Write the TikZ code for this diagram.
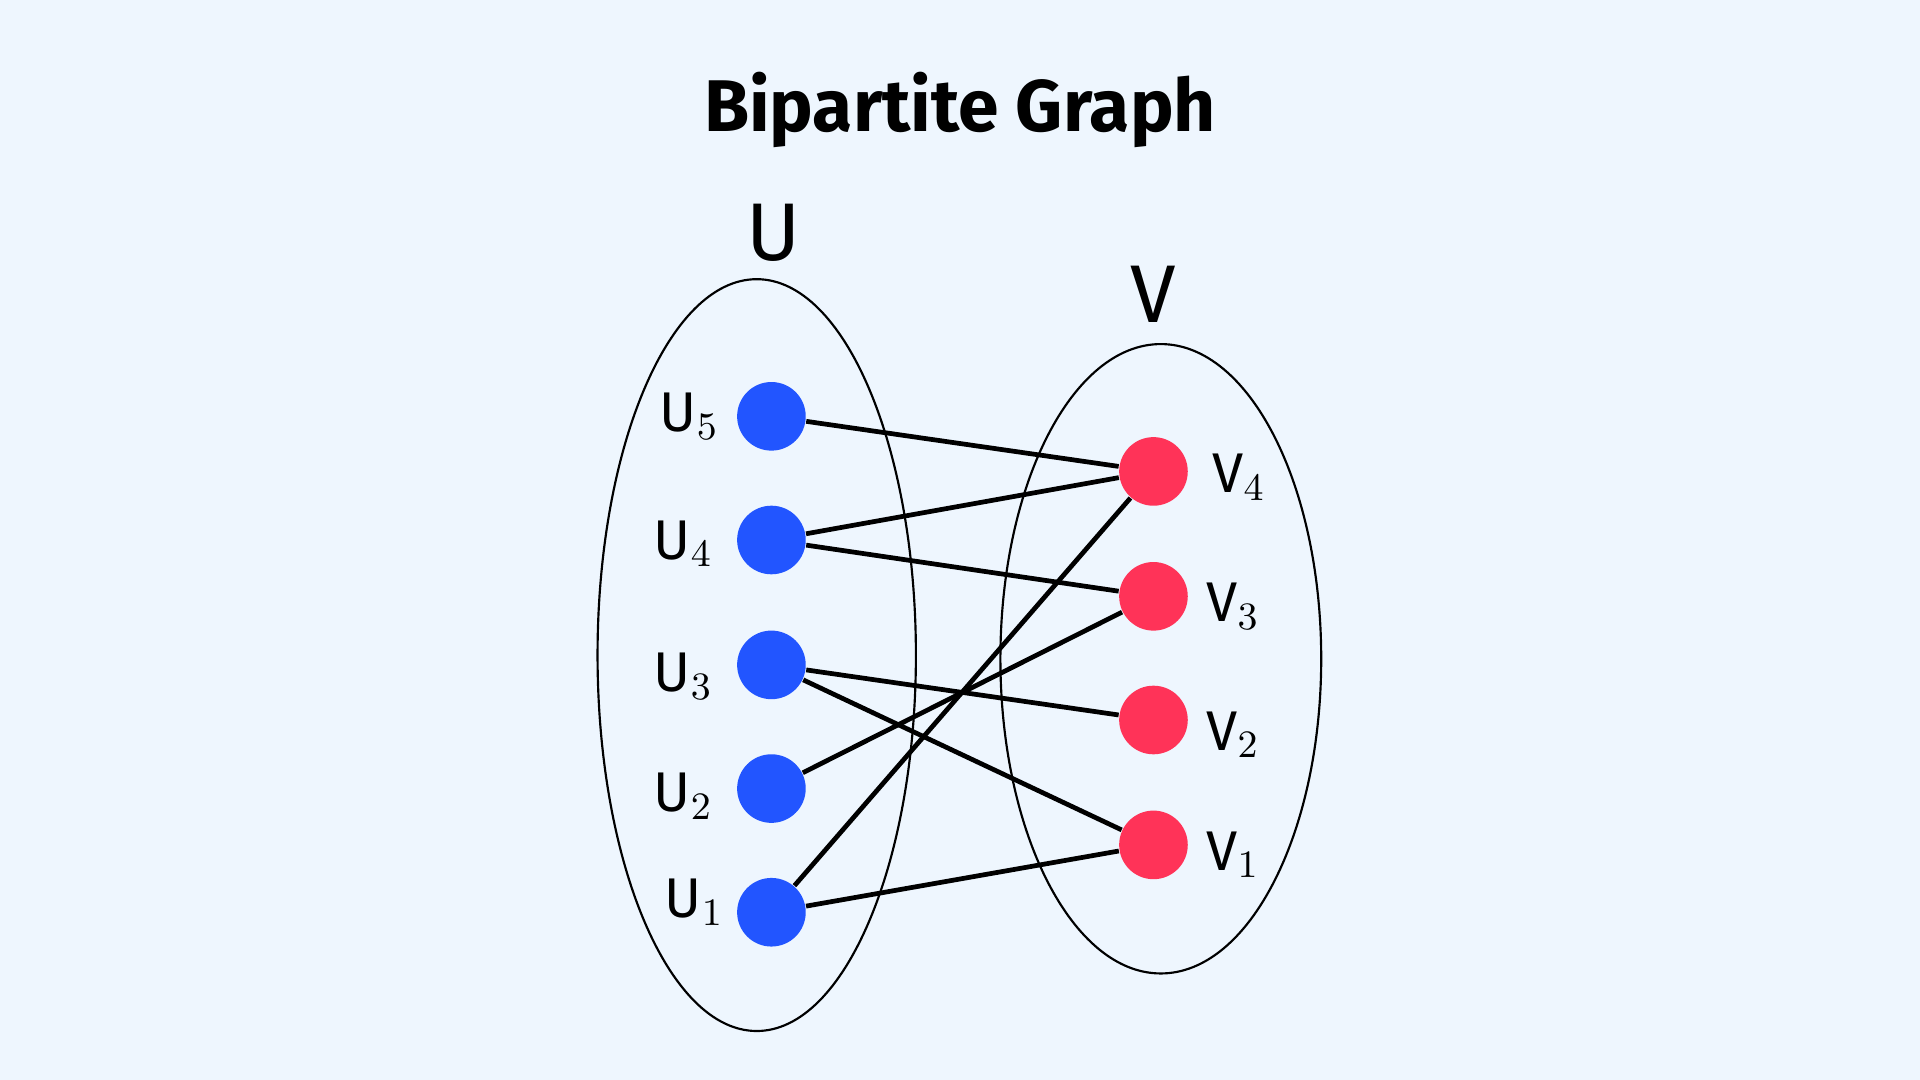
\documentclass[tikz,border=0pt]{standalone}
\usepackage{fontspec}
\setmainfont{Fira Sans}
\begin{document}
\begin{tikzpicture}[x=0.01cm,y=-0.01cm,
  unode/.style={circle,fill=ublue,minimum size=0.56cm,inner sep=0pt},
  vnode/.style={circle,fill=vred,minimum size=0.56cm,inner sep=0pt},
  lab/.style={font=\fontsize{13}{15}\selectfont},
  edge/.style={line width=1.1pt,black},
  grp/.style={draw,line width=0.5pt}]
\definecolor{bg}{HTML}{EEF6FE}
\definecolor{ublue}{HTML}{2255FF}
\definecolor{vred}{HTML}{FF3358}
\fill[bg] (0,0) rectangle (1568,882);
\useasboundingbox (0,0) rectangle (1568,882);
\node[font=\bfseries\fontsize{17}{20}\selectfont] (title) at (784,90) {Bipartite Graph};
\node[font=\fontsize{19}{22}\selectfont] (Ul) at (632,190) {U};
\node[font=\fontsize{19}{22}\selectfont] (Vl) at (942,240) {V};
\draw[grp] (618,535) ellipse [x radius=130,y radius=307];
\draw[grp] (948,538) ellipse [x radius=131,y radius=257];
\node[unode] (u5) at (630,340) {};
\node[unode] (u4) at (630,441) {};
\node[unode] (u3) at (630,543) {};
\node[unode] (u2) at (630,644) {};
\node[unode] (u1) at (630,745) {};
\node[vnode] (v4) at (942,385) {};
\node[vnode] (v3) at (942,487) {};
\node[vnode] (v2) at (942,588) {};
\node[vnode] (v1) at (942,690) {};
\node[lab] (lu5) at (563,340) {U$_5$};
\node[lab] (lu4) at (558,444) {U$_4$};
\node[lab] (lu3) at (558,552) {U$_3$};
\node[lab] (lu2) at (558,650) {U$_2$};
\node[lab] (lu1) at (567,737) {U$_1$};
\node[lab] (lv4) at (1012,390) {V$_4$};
\node[lab] (lv3) at (1007,495) {V$_3$};
\node[lab] (lv2) at (1007,600) {V$_2$};
\node[lab] (lv1) at (1007,698) {V$_1$};
\draw[edge] (u5) -- (v4);
\draw[edge] (u4) -- (v4);
\draw[edge] (u4) -- (v3);
\draw[edge] (u3) -- (v2);
\draw[edge] (u3) -- (v1);
\draw[edge] (u2) -- (v3);
\draw[edge] (u1) -- (v4);
\draw[edge] (u1) -- (v1);
\end{tikzpicture}
\end{document}
